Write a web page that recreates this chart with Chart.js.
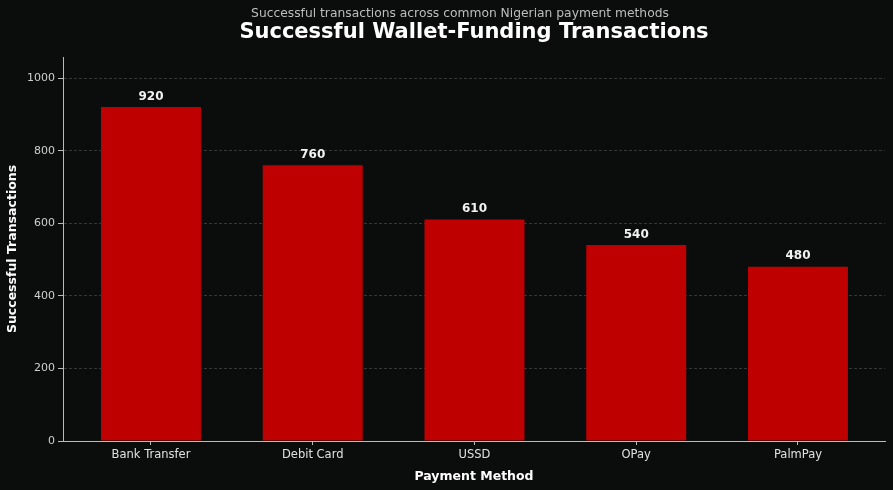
<!DOCTYPE html>
<html>
<head>
<meta charset="utf-8">
<script src="https://cdn.jsdelivr.net/npm/chart.js@4.4.0/dist/chart.umd.min.js"></script>
<style>
html,body{margin:0;padding:0;background:#0b0d0d;}
#wrap{width:893px;height:490px;}
</style>
</head>
<body>
<div id="wrap"><canvas id="c" width="893" height="490"></canvas></div>
<script>
const categories = ["Bank Transfer", "Debit Card", "USSD", "OPay", "PalmPay"];
const successfulTransactions = [920, 760, 610, 540, 480];
const yTickValues = [0, 200, 400, 600, 800, 1000];
const titleText = "Successful Wallet-Funding Transactions";
const subtitleText = "Successful transactions across common Nigerian payment methods";
const xAxisTitle = "Payment Method";
const yAxisTitle = "Successful Transactions";

const FONT = "'DejaVu Sans', sans-serif";

const bgPlugin = {
  id: 'bg',
  beforeDraw(chart) {
    const ctx = chart.ctx;
    ctx.save();
    ctx.fillStyle = '#0b0d0d';
    ctx.fillRect(0, 0, chart.width, chart.height);
    ctx.restore();
  }
};

const textPlugin = {
  id: 'texts',
  afterDraw(chart) {
    const ctx = chart.ctx;
    const area = chart.chartArea;
    ctx.save();
    ctx.textAlign = 'center';
    ctx.textBaseline = 'middle';
    ctx.fillStyle = '#bdbdbd';
    ctx.font = "12.3px " + FONT;
    ctx.fillText(subtitleText, 460, 13.5);
    ctx.fillStyle = '#ffffff';
    ctx.font = "bold 21px " + FONT;
    ctx.fillText(titleText, (area.left + area.right) / 2, 33);
    ctx.restore();
  },
  afterDatasetsDraw(chart) {
    const ctx = chart.ctx;
    const meta = chart.getDatasetMeta(0);
    ctx.save();
    ctx.textAlign = 'center';
    ctx.textBaseline = 'middle';
    ctx.fillStyle = '#f2f2f2';
    ctx.font = "bold 12px " + FONT;
    meta.data.forEach((bar, i) => {
      ctx.fillText(String(successfulTransactions[i]), bar.x, bar.y - 10.5);
    });
    ctx.restore();
  }
};

new Chart(document.getElementById('c'), {
  type: 'bar',
  data: {
    datasets: [{
      data: successfulTransactions.map((v, i) => ({ x: i, y: v })),
      backgroundColor: '#bf0000',
      borderWidth: 0,
      barPercentage: 1,
      categoryPercentage: 0.618
    }]
  },
  options: {
    responsive: false,
    animation: false,
    devicePixelRatio: 1,
    layout: { padding: { top: 57, right: 8, left: 0, bottom: 0 } },
    plugins: {
      legend: { display: false },
      tooltip: { enabled: false },
      title: { display: false }
    },
    scales: {
      x: {
        type: 'linear',
        offset: false,
        min: -0.544,
        max: 4.538,
        afterFit(s) { s.height = 49; },
        afterBuildTicks(s) { s.ticks = categories.map((c, i) => ({ value: i })); },
        ticks: {
          stepSize: 1,
          color: '#e0e0e0',
          font: { family: FONT, size: 11.5 },
          padding: 3,
          maxRotation: 0,
          autoSkip: false,
          callback: (v) => categories[v] !== undefined ? categories[v] : ''
        },
        grid: {
          offset: false,
          drawOnChartArea: false,
          drawTicks: true,
          tickLength: 4,
          tickColor: '#bbbbbb',
          tickWidth: 1
        },
        border: { display: true, color: '#bbbbbb', width: 1 },
        title: {
          display: true,
          text: xAxisTitle,
          color: '#ffffff',
          font: { family: FONT, size: 12.5, weight: 'bold' },
          padding: { top: 0, bottom: 6 }
        }
      },
      y: {
        min: 0,
        max: 1058,
        afterFit(s) { s.width = 63; },
        afterBuildTicks(s) { s.ticks = yTickValues.map(v => ({ value: v })); },
        ticks: {
          stepSize: 200,
          color: '#cfcfcf',
          font: { family: FONT, size: 11 },
          padding: 3,
          callback: (v) => String(v)
        },
        grid: {
          color: 'rgba(255,255,255,0.22)',
          lineWidth: 0.8,
          drawTicks: true,
          tickLength: 5,
          tickColor: '#bbbbbb',
          tickBorderDash: [],
          tickWidth: 1
        },
        border: { display: true, color: '#bbbbbb', width: 1, dash: [3, 2] },
        title: {
          display: true,
          text: yAxisTitle,
          color: '#ffffff',
          font: { family: FONT, size: 12.5, weight: 'bold' },
          padding: { top: 5, bottom: 0 }
        }
      }
    }
  },
  plugins: [bgPlugin, textPlugin]
});
</script>
</body>
</html>
